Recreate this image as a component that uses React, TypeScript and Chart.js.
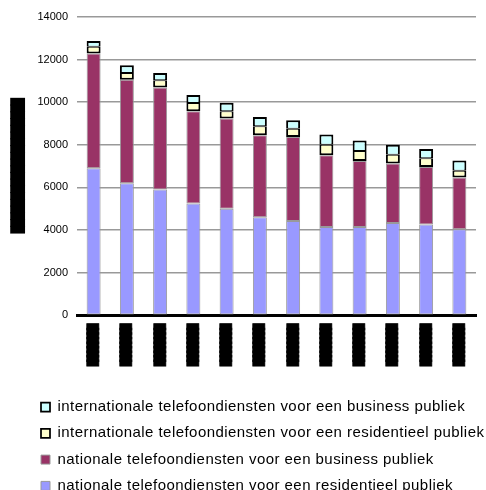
import React, { useEffect, useRef } from 'react';
import { Chart, registerables } from 'chart.js';

Chart.register(...registerables);

// Category labels (rendered as solid blocks in the reference)
const categories = [
  '█████████', '█████████', '█████████', '█████████', '█████████', '█████████',
  '█████████', '█████████', '█████████', '█████████', '█████████', '█████████',
];

const nationaalResidentieel = [6900, 6200, 5900, 5250, 5000, 4600, 4430, 4150, 4150, 4330, 4260, 4040];
const nationaalBusiness = [5390, 4860, 4790, 4330, 4240, 3850, 3940, 3360, 3090, 2790, 2700, 2430];
const internationaalResidentieel = [310, 310, 340, 380, 340, 420, 390, 500, 470, 420, 410, 310];
const internationaalBusiness = [270, 360, 340, 380, 390, 440, 390, 470, 490, 470, 440, 490];

const yTickValues = [0, 2000, 4000, 6000, 8000, 10000, 12000, 14000];
const yTickLabels = ['0', '2000', '4000', '6000', '8000', '10000', '12000', '14000'];
const yAxisTitle = '████████████████████';

const seriesNames = [
  'nationale telefoondiensten voor een residentieel publiek',
  'nationale telefoondiensten voor een business publiek',
  'internationale telefoondiensten voor een residentieel publiek',
  'internationale telefoondiensten voor een business publiek',
];

function withSpacing(obj: any, method: string, spacing: string) {
  const key = '__sp_' + method;
  if (obj[key]) return;
  const orig = obj[method];
  obj[method] = function (...args: any[]) {
    const ctx: any = this.ctx;
    const prev = ctx.letterSpacing;
    ctx.letterSpacing = spacing;
    const r = orig.apply(this, args);
    ctx.letterSpacing = prev || '0px';
    return r;
  };
  obj[key] = true;
}

const layoutTweaks = {
  id: 'layoutTweaks',
  afterLayout(chart: any) {
    const lg = chart.legend;
    if (lg) {
      const h = lg.bottom - lg.top;
      lg.left = 29.7;
      lg.right = 486;
      lg.width = lg.right - lg.left;
      lg.top = 388.2;
      lg.bottom = lg.top + h;
      withSpacing(lg, 'draw', '0.45px');
    }
    if (chart.scales.x) withSpacing(chart.scales.x, 'drawLabels', '-1.5px');
    if (chart.scales.y) withSpacing(chart.scales.y, 'drawTitle', '-0.8px');
  },
};

export default function App() {
  const ref = useRef<HTMLCanvasElement>(null);

  useEffect(() => {
    if (!ref.current) return;
    Chart.defaults.font.family = '"Liberation Sans", Arial, sans-serif';
    const chart = new Chart(ref.current, {
      type: 'bar',
      data: {
        labels: categories,
        datasets: [
          {
            label: seriesNames[0],
            data: nationaalResidentieel,
            backgroundColor: '#9999FF',
            borderColor: '#999999',
            borderWidth: 1,
            borderSkipped: false,
          },
          {
            label: seriesNames[1],
            data: nationaalBusiness,
            backgroundColor: '#993366',
            borderColor: '#999999',
            borderWidth: 1,
            borderSkipped: false,
          },
          {
            label: seriesNames[2],
            data: internationaalResidentieel,
            backgroundColor: '#FFFFCC',
            borderColor: '#000000',
            borderWidth: { top: 1, right: 2, bottom: 2, left: 2 },
            borderSkipped: false,
          },
          {
            label: seriesNames[3],
            data: internationaalBusiness,
            backgroundColor: '#CCFFFF',
            borderColor: '#000000',
            borderWidth: { top: 2, right: 2, bottom: 1, left: 2 },
            borderSkipped: false,
          },
        ],
      },
      options: {
        animation: false,
        responsive: true,
        maintainAspectRatio: false,
        layout: { padding: { top: 17, right: 10, left: 0, bottom: 0 } },
        datasets: { bar: { barPercentage: 0.42, categoryPercentage: 1 } },
        plugins: {
          tooltip: { enabled: false },
          legend: {
            position: 'bottom',
            align: 'start',
            reverse: true,
            labels: {
              boxWidth: 9,
              boxHeight: 9,
              padding: 11.3,
              color: '#000',
              font: { size: 15 },
            },
          },
        },
        scales: {
          x: {
            stacked: true,
            offset: true,
            grid: { display: false, drawTicks: false },
            border: { display: true, color: '#000', width: 3 },
            ticks: {
              autoSkip: false,
              minRotation: 90,
              maxRotation: 90,
              padding: 10,
              color: '#000',
              textStrokeColor: '#000',
              textStrokeWidth: 1,
              font: { family: '"DejaVu Sans Mono"', size: 10 },
            },
            afterFit: (s: any) => { s.height = 59.5; },
          },
          y: {
            stacked: true,
            min: 0,
            max: 14000,
            afterBuildTicks: (s: any) => { s.ticks = yTickValues.map((v) => ({ value: v })); },
            ticks: {
              color: '#000',
              padding: 9,
              font: { size: 11 },
              callback: (_v: any, i: number) => yTickLabels[i],
            },
            grid: { color: '#999999', lineWidth: 1.5, drawTicks: false },
            border: { display: false },
            title: {
              display: true,
              text: yAxisTitle,
              color: '#000',
              font: { family: '"DejaVu Sans Mono"', size: 12.5 },
              padding: { top: 11, bottom: 0 },
            },
            afterFit: (s: any) => { s.width = 77; },
          },
        },
      },
      plugins: [layoutTweaks],
    });
    return () => chart.destroy();
  }, []);

  return (
    <div style={{ position: 'fixed', left: 0, top: 0, width: 486, height: 490, background: '#fff' }}>
      <canvas ref={ref} />
    </div>
  );
}
